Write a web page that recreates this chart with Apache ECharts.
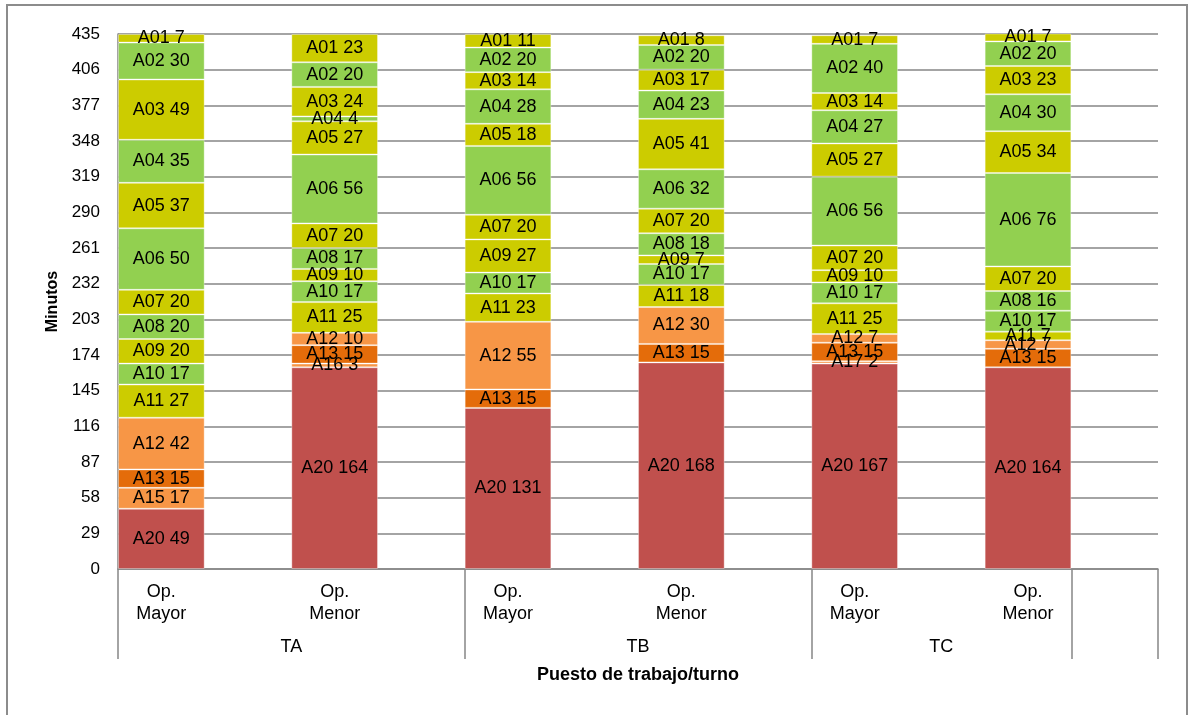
<!DOCTYPE html>
<html>
<head>
<meta charset="utf-8">
<title>Minutos por puesto de trabajo y turno</title>
<script src="https://cdn.jsdelivr.net/npm/echarts@6/dist/echarts.min.js"></script>
<style>
  html, body { margin: 0; padding: 0; background: #fff; }
  #chart { width: 1189px; height: 715px; }
</style>
</head>
<body>
<div id="chart"></div>
<script>
// Puestos (operario mayor / menor) for each turno, left to right
const categories = ['Op.\nMayor', 'Op.\nMenor', 'Op.\nMayor', 'Op.\nMenor', 'Op.\nMayor', 'Op.\nMenor'];
// Turno groups and their span on the half-slot scale (0..12)
const groupNames = ['TA', 'TB', 'TC'];
const groupStart = [0, 4, 8];
const groupEnd = [4, 8, 11];
const axisEnd = 12;

// Y axis ticks
const yMax = 435;
const yStep = 29;

// Minutes per activity, one value per puesto (bottom of the stack first)
const A20 = [49, 164, 131, 168, 167, 164];
const A17 = [null, null, null, null, 2, null];
const A16 = [null, 3, null, null, null, null];
const A15 = [17, null, null, null, null, null];
const A13 = [15, 15, 15, 15, 15, 15];
const A12 = [42, 10, 55, 30, 7, 7];
const A11 = [27, 25, 23, 18, 25, 7];
const A10 = [17, 17, 17, 17, 17, 17];
const A09 = [20, 10, 27, 7, 10, null];
const A08 = [20, 17, null, 18, null, 16];
const A07 = [20, 20, 20, 20, 20, 20];
const A06 = [50, 56, 56, 32, 56, 76];
const A05 = [37, 27, 18, 41, 27, 34];
const A04 = [35, 4, 28, 23, 27, 30];
const A03 = [49, 24, 14, 17, 14, 23];
const A02 = [30, 20, 20, 20, 40, 20];
const A01 = [7, 23, 11, 8, 7, 7];

const RED = '#C0504D', ORANGE = '#E46C0A', LIGHT_ORANGE = '#F79646',
      OLIVE = '#CCCC00', GREEN = '#92D050';

const stackOrder = [
  ['A20', A20, RED],
  ['A17', A17, LIGHT_ORANGE],
  ['A16', A16, LIGHT_ORANGE],
  ['A15', A15, LIGHT_ORANGE],
  ['A13', A13, ORANGE],
  ['A12', A12, LIGHT_ORANGE],
  ['A11', A11, OLIVE],
  ['A10', A10, GREEN],
  ['A09', A09, OLIVE],
  ['A08', A08, GREEN],
  ['A07', A07, OLIVE],
  ['A06', A06, GREEN],
  ['A05', A05, OLIVE],
  ['A04', A04, GREEN],
  ['A03', A03, OLIVE],
  ['A02', A02, GREEN],
  ['A01', A01, OLIVE]
];

// Each puesto occupies the left half of its slot: interleave with empty half-slots
const halfCategories = [];
categories.forEach(c => { halfCategories.push(c, ''); });
const spread = arr => {
  const out = [];
  arr.forEach(v => { out.push(v, null); });
  return out;
};

const FONT = '"Liberation Sans", Arial, sans-serif';
const GRAY = '#868686';

const series = stackOrder.map(([name, values, color]) => ({
  name: name,
  type: 'bar',
  stack: 'total',
  barCategoryGap: '0%',
  data: spread(values),
  itemStyle: { color: color, borderColor: 'rgba(255,255,255,0.35)', borderWidth: 1 },
  label: {
    show: true,
    position: 'inside',
    color: '#000',
    fontFamily: FONT,
    fontSize: 18,
    formatter: p => p.seriesName + ' ' + p.value
  },
  emphasis: { disabled: true }
}));

const groupLabel = {};
groupNames.forEach((g, i) => { groupLabel[(groupStart[i] + groupEnd[i]) / 2] = g; });
const groupTicks = groupStart.concat([groupEnd[groupEnd.length - 1], axisEnd]);

const chart = echarts.init(document.getElementById('chart'), null, { renderer: 'canvas' });
chart.setOption({
  animation: false,
  backgroundColor: '#fff',
  textStyle: { fontFamily: FONT },
  grid: { left: 118, right: 31, top: 34, bottom: 146, containLabel: false },
  graphic: [{
    type: 'rect',
    shape: { x: 7, y: 5, width: 1180, height: 730 },
    style: { fill: 'none', stroke: '#8c8c8c', lineWidth: 2 },
    silent: true
  }],
  xAxis: [{
    type: 'category',
    data: halfCategories,
    position: 'bottom',
    axisLine: { show: true, lineStyle: { color: GRAY, width: 1.5 } },
    axisTick: { show: false },
    axisLabel: { interval: 0, color: '#000', fontFamily: FONT, fontSize: 18, lineHeight: 22, margin: 12 },
    name: 'Puesto de trabajo/turno',
    nameLocation: 'middle',
    nameGap: 97,
    nameTextStyle: { color: '#000', fontFamily: FONT, fontSize: 18, fontWeight: 'bold' }
  }, {
    type: 'value',
    min: 0,
    max: axisEnd,
    position: 'bottom',
    axisLine: { show: false },
    splitLine: { show: false },
    axisTick: { show: true, customValues: groupTicks, length: 90, lineStyle: { color: GRAY, width: 1.5 } },
    axisLabel: {
      customValues: Object.keys(groupLabel).map(Number),
      formatter: v => groupLabel[v] || '',
      color: '#000', fontFamily: FONT, fontSize: 18, margin: 69
    }
  }],
  yAxis: {
    type: 'value',
    min: 0,
    max: yMax,
    interval: yStep,
    axisLine: { show: true, lineStyle: { color: GRAY, width: 1.5 } },
    axisTick: { show: false },
    splitLine: { show: true, lineStyle: { color: GRAY, width: 1.5 } },
    axisLabel: { color: '#000', fontFamily: FONT, fontSize: 17, margin: 18 },
    name: 'Minutos',
    nameLocation: 'middle',
    nameRotate: 90,
    nameGap: 57,
    nameTextStyle: { color: '#000', fontFamily: FONT, fontSize: 16, fontWeight: 'bold' }
  },
  series: series
});
</script>
</body>
</html>
